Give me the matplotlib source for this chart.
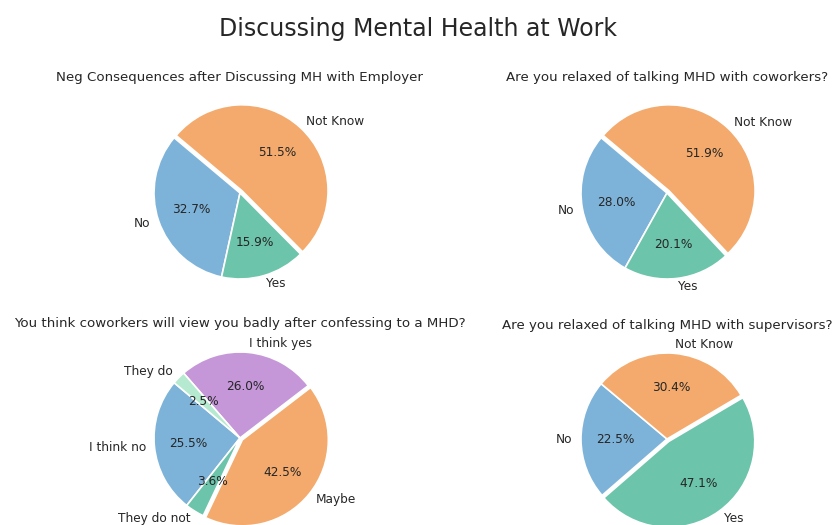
import matplotlib
matplotlib.use("Agg")
import matplotlib.pyplot as plt

# colours per answer
BLUE = "#7eb3d9"
ORANGE = "#f3aa6c"
TEAL = "#6cc4aa"
PURPLE = "#c597d8"
LIGHT = "#b5ead0"

# --- data ---
titles = [
    "Neg Consequences after Discussing MH with Employer",
    "Are you relaxed of talking MHD with coworkers?",
    "You think coworkers will view you badly after confessing to a MHD?",
    "Are you relaxed of talking MHD with supervisors?",
]

employer_labels = ["No", "Yes", "Not Know"]
employer_values = [32.7, 15.9, 51.5]

coworker_labels = ["No", "Yes", "Not Know"]
coworker_values = [28.0, 20.1, 51.9]

view_labels = ["I think no", "They do not", "Maybe", "I think yes", "They do"]
view_values = [25.5, 3.6, 42.5, 26.0, 2.5]

supervisor_labels = ["No", "Yes", "Not Know"]
supervisor_values = [22.5, 47.1, 30.4]

colour_map = {
    "No": BLUE, "Yes": TEAL, "Not Know": ORANGE,
    "I think no": BLUE, "They do not": TEAL, "Maybe": ORANGE,
    "I think yes": PURPLE, "They do": LIGHT,
}

panels = [
    (employer_labels, employer_values),
    (coworker_labels, coworker_values),
    (view_labels, view_values),
    (supervisor_labels, supervisor_values),
]

W, H = 836, 525
R = 86  # pie radius in pixels
centers = [(240, 193), (667, 193), (240, 438), (667, 439)]
title_pads = [3.0, 3.0, 2.0, 2.0]

TEXT = "#262626"


def pct_formatter(values):
    # show the survey percentages as read, not renormalised
    total = sum(values)
    return lambda p: f"{p * total / 100:.1f}%"


fig = plt.figure(figsize=(W / 100, H / 100), dpi=100)
fig.suptitle("Discussing Mental Health at Work", fontsize=17, color=TEXT, y=1 - 29 / H, va="center")

for (labels, values), (cx, cy), title, pad in zip(panels, centers, titles, title_pads):
    side = 2.5 * R
    ax = fig.add_axes([(cx - side / 2) / W, (H - cy - side / 2) / H, side / W, side / H])
    biggest = values.index(max(values))
    explode = [0.035 if i == biggest else 0 for i in range(len(values))]
    wedges, texts, autotexts = ax.pie(
        values,
        labels=labels,
        colors=[colour_map[l] for l in labels],
        explode=explode,
        startangle=140,
        autopct=pct_formatter(values),
        wedgeprops=dict(edgecolor="white", linewidth=1.2),
        textprops=dict(fontsize=8.7, color=TEXT),
    )
    ax.set_xlim(-1.25, 1.25)
    ax.set_ylim(-1.25, 1.25)
    ax.set_aspect("equal")
    ax.set_title(title, fontsize=9.6, color=TEXT, pad=pad)

fig.savefig("out.png", dpi=100)
